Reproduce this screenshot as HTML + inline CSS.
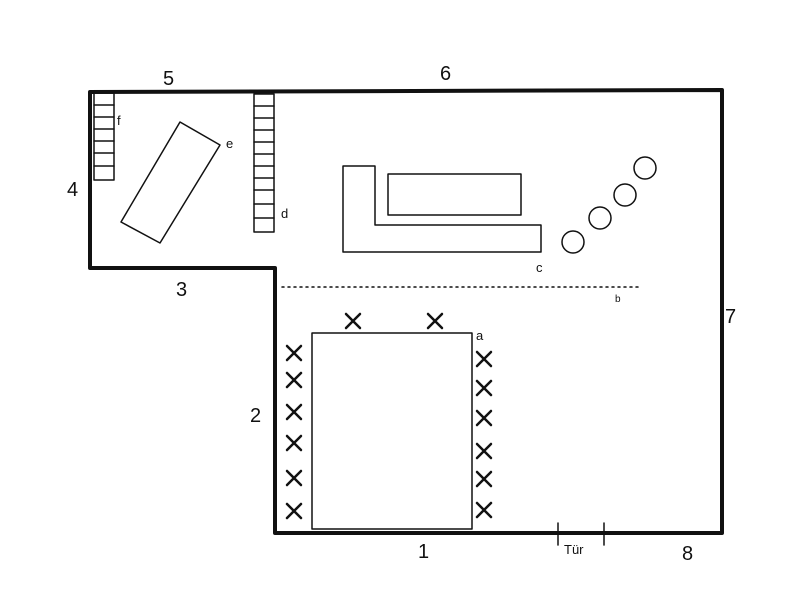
<!DOCTYPE html>
<html><head><meta charset="utf-8"><style>html,body{margin:0;padding:0;background:#fff}svg{display:block}</style></head>
<body>
<svg width="800" height="600" viewBox="0 0 800 600" xmlns="http://www.w3.org/2000/svg" font-family="Liberation Sans, sans-serif">
<rect width="800" height="600" fill="#fff"/>
<g fill="none" stroke="#111" stroke-linecap="round" stroke-linejoin="round">
<!-- walls -->
<path d="M90,92 L722,90 L722,533 L275,533 L275,268 L90,268 Z" stroke-width="4"/>
<!-- ladder f -->
<g stroke-width="1.5">
<rect x="94" y="93" width="20" height="87"/>
<path d="M94,105H114M94,117H114M94,129H114M94,141H114M94,153H114M94,166H114"/>
<!-- ladder d -->
<rect x="254" y="94" width="20" height="138"/>
<path d="M254,106H274M254,118H274M254,130H274M254,142H274M254,154H274M254,166H274M254,178H274M254,190H274M254,204H274M254,218H274"/>
<!-- e -->
<path d="M180,122 L220,145 L160,243 L121,222 Z"/>
<!-- c -->
<path d="M343,166 L375,166 L375,225 L541,225 L541,252 L343,252 Z"/>
<rect x="388" y="174" width="133" height="41"/>
<!-- circles -->
<circle cx="573" cy="242" r="11"/><circle cx="600" cy="218" r="11"/><circle cx="625" cy="195" r="11"/><circle cx="645" cy="168" r="11"/>
<!-- table -->
<rect x="312" y="333" width="160" height="196"/>
<!-- door ticks -->
<path d="M558,523V545M604,523V545"/>
</g>
<path d="M282,287H640" stroke-width="1.5" stroke-dasharray="2,4"/>
<!-- X marks -->
<g stroke-width="2.5">
<path d="M346,314l14,14M360,314l-14,14"/>
<path d="M428,314l14,14M442,314l-14,14"/>
<path d="M287,346l14,14M301,346l-14,14"/>
<path d="M287,373l14,14M301,373l-14,14"/>
<path d="M287,405l14,14M301,405l-14,14"/>
<path d="M287,436l14,14M301,436l-14,14"/>
<path d="M287,471l14,14M301,471l-14,14"/>
<path d="M287,504l14,14M301,504l-14,14"/>
<path d="M477,352l14,14M491,352l-14,14"/>
<path d="M477,381l14,14M491,381l-14,14"/>
<path d="M477,411l14,14M491,411l-14,14"/>
<path d="M477,444l14,14M491,444l-14,14"/>
<path d="M477,472l14,14M491,472l-14,14"/>
<path d="M477,503l14,14M491,503l-14,14"/>
</g>
</g>
<g fill="#111" font-size="20">
<text x="163" y="85">5</text>
<text x="440" y="80">6</text>
<text x="67" y="196">4</text>
<text x="176" y="296">3</text>
<text x="250" y="422">2</text>
<text x="418" y="558">1</text>
<text x="725" y="323">7</text>
<text x="682" y="560">8</text>
</g>
<g fill="#111" font-size="13">
<text x="476" y="340">a</text>
<text x="615" y="302" font-size="10">b</text>
<text x="536" y="272">c</text>
<text x="281" y="218">d</text>
<text x="226" y="148">e</text>
<text x="117" y="125">f</text>
<text x="564" y="554">Tür</text>
</g>
</svg>
</body></html>
